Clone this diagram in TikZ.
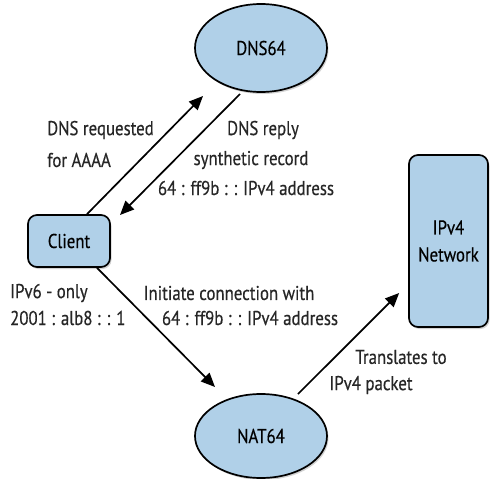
\documentclass[tikz,border=0pt]{standalone}
\usepackage{fontspec}
\setmainfont[FakeStretch=0.84,FakeBold=0.4]{PT Sans}
\usetikzlibrary{arrows.meta,shapes.geometric,shadows,calc}
\definecolor{nodeblue}{RGB}{176,208,232}
\tikzset{
  shade/.style={drop shadow={shadow xshift=1.5pt,shadow yshift=-2pt,opacity=0.35,fill=gray}},
  ell/.style={ellipse,draw=black,line width=1.7pt,fill=nodeblue,minimum width=132pt,minimum height=88pt,inner sep=0pt,font=\fontsize{20}{23}\selectfont,shade},
  rbox/.style={rectangle,rounded corners=9pt,draw=black,line width=1.7pt,fill=nodeblue,inner sep=0pt,font=\fontsize{20}{23}\selectfont,shade},
  lbl/.style={font=\fontsize{20}{23}\selectfont,inner sep=0pt,text=black!85},
  arr/.style={line width=1.7pt,-{Triangle[length=14pt,width=12pt]}}
}
\begin{document}
\begin{tikzpicture}[x=1pt,y=-1pt]
\useasboundingbox[fill=white] (0,0) rectangle (490,479);
% nodes
\node[ell] (dns) at (261,48) {DNS64};
\node[ell,minimum height=84pt] (nat) at (261,436) {NAT64};
\node[rbox,minimum width=82pt,minimum height=52pt] (client) at (69,241) {Client};
\node[rbox,minimum width=79pt,minimum height=172pt,align=center] (net) at (448.5,241) {IPv4\\[4pt]Network};
% connectors
\draw[arr] ($(client.north)+(18,0)$) -- ($(dns)+(-58,48)$);
\draw[arr] ($(dns)+(-21,46)$) -- ($(client)+(51,-26)$);
\draw[arr] ($(client.south)+(28,0)$) -- ($(nat)+(-46,-49)$);
\draw[arr] ($(nat)+(37,-42)$) -- ($(net.west)+(-9,52)$);
% labels
\node[lbl,anchor=west] (l1) at (47,130) {DNS requested};
\node[lbl,anchor=west] (l2) at (47,160) {for AAAA};
\node[lbl] (r1) at (263,130) {DNS reply};
\node[lbl] (r2) at (251,160) {synthetic record};
\node[lbl] (r3) at (246,188) {64 : ff9b : : IPv4 address};
\node[lbl,anchor=west] (c1) at (10,293) {IPv6 - only};
\node[lbl,anchor=west] (c2) at (10,318) {2001 : alb8 : : 1};
\node[lbl] (i1) at (229,293) {Initiate connection with};
\node[lbl] (i2) at (250,318) {64 : ff9b : : IPv4 address};
\node[lbl] (t1) at (401,357) {Translates to};
\node[lbl] (t2) at (371,385) {IPv4 packet};
\end{tikzpicture}
\end{document}
